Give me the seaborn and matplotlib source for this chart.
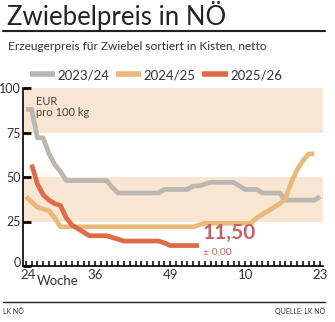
import matplotlib
matplotlib.use("Agg")
import matplotlib.pyplot as plt
import matplotlib.transforms as mtransforms
import seaborn as sns
import pandas as pd
import numpy as np
from matplotlib.lines import Line2D

sns.set_theme(style="white")
plt.rcParams['font.family'] = ['Lato', 'DejaVu Sans']

# ---- data ----
weeks = list(range(24, 53)) + list(range(1, 24))  # 52 weeks, x index 0..51
tick_labels = ["24", "36", "49", "10", "23"]
tick_idx = [0, 12, 25, 38, 51]

grey_2324 = [88, 88, 72, 72, 63, 57, 53, 48, 48, 48, 48, 48, 48, 48, 48, 44, 41, 41, 41, 41,
             41, 41, 41, 41, 43, 43, 43, 43, 43, 45, 45, 46, 47, 47, 47, 47, 47, 45, 43, 43,
             43, 41, 41, 41, 41, 37, 37, 37, 37, 37, 37, 39]
orange_2425 = [39, 36, 33, 32, 31, 27, 22, 22, 22, 22, 22, 22, 22, 22, 22, 22, 22, 22, 22, 22,
               22, 22, 22, 22, 22, 22, 22, 22, 22, 22, 23, 24, 24, 24, 24, 24, 24, 24, 24, 24,
               27, 29, 31, 33, 35, 38, 47, 54, 59, 63, 63]
red_2526 = [57, 46, 40, 37, 35, 34, 27, 23, 21, 19, 17, 17, 17, 17, 16, 15, 14, 14, 14, 14,
            14, 14, 14, 13, 11.5, 11.5, 11.5, 11.5, 11.5, 11.5]
red_start = 1
series_names = ["2023/24", "2024/25", "2025/26"]
colors = ["#bdb5af", "#e8b97a", "#de6a48"]

frames = []
frames.append(pd.DataFrame({"x": range(len(grey_2324)), "y": grey_2324, "s": series_names[0]}))
frames.append(pd.DataFrame({"x": range(len(orange_2425)), "y": orange_2425, "s": series_names[1]}))
frames.append(pd.DataFrame({"x": range(red_start, red_start + len(red_2526)), "y": red_2526, "s": series_names[2]}))
df = pd.concat(frames, ignore_index=True)

fig = plt.figure(figsize=(3.35, 3.22), dpi=100)
ax = fig.add_axes([23/335, 1 - 266/322, (323 - 23)/335, (266 - 88)/322])

# bands
for lo, hi in [(25, 50), (75, 100)]:
    ax.axhspan(lo, hi, color="#f8e6d3", lw=0, zorder=0)

sns.lineplot(data=df, x="x", y="y", hue="s", palette=dict(zip(series_names, colors)),
             ax=ax, linewidth=3.4, legend=False, zorder=3)
for ln in ax.lines:
    ln.set_solid_capstyle("butt")

ax.set_xlim(-0.5, 51.5)
ax.set_ylim(0, 100)
ax.set_xlabel("")
ax.set_ylabel("")

ax.set_xticks(tick_idx)
ax.set_xticklabels(tick_labels, fontsize=9.5, color="#333333")
ax.set_xticks(range(0, 52), minor=True)
ax.tick_params(axis="x", which="both", direction="in", length=3.5, width=1.1, color="black", pad=2.5, bottom=True)
ax.set_yticks([0, 25, 50, 75, 100])
ax.set_yticklabels(["0", "25", "50", "75", "100"], fontsize=9, color="#333333")
ax.tick_params(axis="y", which="major", direction="in", length=6, width=2, color="black", pad=1.5, left=True)
for s in ["top", "right"]:
    ax.spines[s].set_visible(False)
for s in ["left", "bottom"]:
    ax.spines[s].set_color("black")
    ax.spines[s].set_linewidth(1.2)

# nudge the "0" label up and the "24" label right so they don't collide
fig.canvas.draw()
ylab0 = ax.get_yticklabels()[0]
ylab0.set_transform(ylab0.get_transform() + mtransforms.ScaledTranslation(0, 3/72, fig.dpi_scale_trans))
xlab0 = ax.get_xticklabels()[0]
xlab0.set_transform(xlab0.get_transform() + mtransforms.ScaledTranslation(1.5/72, 0, fig.dpi_scale_trans))

ax.text(5.5, -4.8, "Woche", fontsize=9.5, color="#333333", ha="center", va="top")
ax.text(1.8, 95.5, "EUR\npro 100 kg", fontsize=8, color="#444444", ha="left", va="top", linespacing=1.0)
ax.text(30.7, 13, "11,50", fontsize=15, fontweight="bold", color="#c06562", ha="left", va="bottom")
ax.text(30.7, 10.5, "± 0,00", fontsize=7.5, color="#c06562", ha="left", va="top")

# legend
handles = [Line2D([0], [0], color=c, lw=4, solid_capstyle="butt") for c in colors]
fig.legend(handles, series_names, loc="center left", bbox_to_anchor=(18/335, 1 - 75/322),
           ncol=3, frameon=False, fontsize=9.5, handlelength=1.9, handletextpad=0.2,
           columnspacing=0.5, labelcolor="#333333")

# title etc
fig.text(7/335, 1 - 16/322, "Zwiebelpreis in NÖ", fontsize=18.5, color="#222222", ha="left", va="center")
fig.add_artist(Line2D([3/335, 325/335], [1 - 31/322, 1 - 31/322], color="#222222", lw=1.5))
fig.text(8/335, 1 - 47/322, "Erzeugerpreis für Zwiebel sortiert in Kisten, netto", fontsize=8.6,
         color="#333333", ha="left", va="center")
fig.add_artist(Line2D([3/335, 325/335], [1 - 302/322, 1 - 302/322], color="#222222", lw=1.0))
fig.text(3/335, 1 - 311/322, "LK NÖ", fontsize=5, color="#333333", ha="left", va="center")
fig.text(325/335, 1 - 311/322, "QUELLE: LK NÖ", fontsize=5, color="#333333", ha="right", va="center")

fig.savefig("out.png", dpi=100, facecolor="white")
